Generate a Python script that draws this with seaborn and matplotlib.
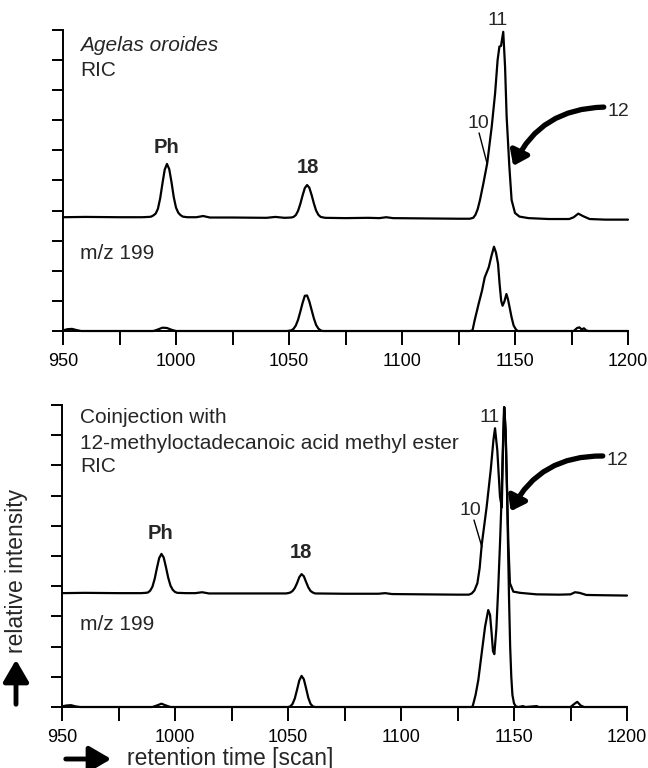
import matplotlib
matplotlib.use("Agg")
import matplotlib.pyplot as plt
from matplotlib.patches import FancyArrowPatch
import seaborn as sns
import pandas as pd

# ---------------- data ----------------
# Panel 1: Agelas oroides, RIC (offset) and m/z 199
ric1_scan = [950, 960, 975, 985, 988, 989, 990, 991, 992, 993, 994, 995, 996, 997, 998, 999, 1000,
             1001, 1002, 1003, 1005, 1009, 1012, 1015, 1025, 1040, 1044, 1048, 1051, 1052, 1053,
             1054, 1055, 1056, 1057, 1058, 1059, 1060, 1061, 1062, 1063, 1064, 1066, 1075, 1085,
             1090, 1093, 1096, 1110, 1125, 1130, 1131.5, 1132.5, 1133.5, 1134.5, 1136, 1137.7,
             1139.7, 1141.2, 1142.3, 1143.1, 1143.8, 1144.8, 1145.6, 1146.3, 1147.5, 1148.5,
             1150, 1152, 1156, 1165, 1174, 1176, 1178, 1180, 1183, 1190, 1200]
ric1_int = [3.78, 3.79, 3.78, 3.78, 3.79, 3.80, 3.84, 3.90, 4.06, 4.41, 4.90, 5.36, 5.55, 5.38,
            4.95, 4.45, 4.10, 3.93, 3.85, 3.80, 3.78, 3.78, 3.82, 3.77, 3.77, 3.76, 3.79, 3.76,
            3.77, 3.79, 3.85, 3.99, 4.22, 4.50, 4.75, 4.85, 4.76, 4.52, 4.24, 4.00, 3.86, 3.79,
            3.76, 3.75, 3.76, 3.75, 3.78, 3.75, 3.74, 3.73, 3.73, 3.76, 3.86, 4.05, 4.35, 4.90,
            5.57, 6.79, 7.90, 9.00, 9.45, 9.47, 9.94, 8.78, 7.12, 5.46, 4.35, 3.92, 3.80, 3.75,
            3.72, 3.72, 3.78, 3.90, 3.82, 3.72, 3.70, 3.70]

mz1_scan = [950, 952, 954, 956, 958, 990, 992, 994, 996, 998, 1000, 1049, 1051, 1052, 1053, 1054,
            1055, 1056, 1057, 1058, 1059, 1060, 1061, 1062, 1063, 1064, 1065, 1130, 1131.2,
            1132.1, 1133.9, 1135.4, 1136.6, 1138.4, 1139.6, 1140.7, 1141.6, 1142.5, 1143.2,
            1143.9, 1144.5, 1145.3, 1146.2, 1146.9, 1147.6, 1148.5, 1149.4, 1150.5, 1151.3,
            1176, 1177.5, 1178.5, 1179.5, 1180.5, 1181.5, 1182.5, 1200]
mz1_int = [0.02, 0.06, 0.07, 0.03, 0.0, 0.0, 0.05, 0.11, 0.10, 0.04, 0.0, 0.0, 0.02, 0.07, 0.18,
           0.37, 0.64, 0.93, 1.17, 1.18, 0.98, 0.70, 0.42, 0.20, 0.08, 0.02, 0.0, 0.0, 0.02,
           0.34, 0.90, 1.34, 1.78, 2.12, 2.50, 2.80, 2.60, 2.23, 1.55, 1.00, 0.84, 0.98, 1.23,
           1.05, 0.79, 0.45, 0.18, 0.04, 0.0, 0.0, 0.10, 0.12, 0.05, 0.09, 0.02, 0.0, 0.0]

# Panel 2: coinjection, RIC (offset) and m/z 199
ric2_scan = [950, 960, 975, 985, 987, 988, 989, 990, 991, 992, 993, 994, 995, 996, 997, 998, 999,
             1000, 1001, 1005, 1009, 1012, 1015, 1030, 1045, 1049, 1050, 1051, 1052, 1053, 1054,
             1055, 1056, 1057, 1058, 1059, 1060, 1061, 1062, 1075, 1090, 1093, 1096, 1110, 1125,
             1130, 1131.3, 1132.5, 1133.8, 1134.8, 1135.7, 1137.9, 1139.7, 1140.9, 1141.6,
             1142.6, 1143.8, 1144.6, 1145.1, 1145.7, 1146.3, 1146.9, 1147.5, 1148.2, 1149.7,
             1152.7, 1160, 1170, 1175, 1177, 1179, 1182, 1190, 1200]
ric2_int = [3.77, 3.78, 3.77, 3.77, 3.78, 3.79, 3.85, 3.98, 4.24, 4.60, 4.93, 5.07, 4.95, 4.63,
            4.28, 4.02, 3.88, 3.81, 3.78, 3.77, 3.77, 3.80, 3.76, 3.76, 3.76, 3.76, 3.77, 3.79,
            3.84, 3.94, 4.10, 4.30, 4.40, 4.33, 4.14, 3.96, 3.84, 3.79, 3.76, 3.75, 3.75, 3.77,
            3.74, 3.73, 3.72, 3.72, 3.76, 3.86, 4.10, 4.60, 5.36, 6.63, 7.85, 8.84, 9.23, 8.51,
            6.96, 6.61, 8.40, 9.93, 9.17, 7.29, 5.42, 4.10, 3.82, 3.78, 3.73, 3.72, 3.73, 3.80,
            3.78, 3.71, 3.70, 3.69]

mz2_scan = [950, 952, 954, 956, 958, 990, 992, 994, 996, 998, 1050, 1051, 1052, 1053, 1054, 1055,
            1056, 1057, 1058, 1059, 1060, 1061, 1062, 1131, 1131.7, 1133, 1134.2, 1135.7, 1137.2,
            1138.6, 1139.4, 1140.1, 1140.7, 1141.3, 1142.2, 1143, 1143.8, 1144.4, 1145, 1145.6,
            1146.3, 1146.9, 1147.4, 1147.8, 1148.3, 1148.8, 1149.3, 1150, 1150.8, 1152, 1154,
            1155, 1160, 1161, 1175, 1177, 1178, 1179.5, 1181, 1200]
mz2_int = [0.02, 0.05, 0.06, 0.02, 0.0, 0.0, 0.05, 0.11, 0.05, 0.0, 0.0, 0.02, 0.10, 0.28, 0.57,
           0.88, 1.03, 0.92, 0.62, 0.30, 0.10, 0.02, 0.0, 0.0, 0.02, 0.40, 0.89, 1.78, 2.66,
           3.21, 3.05, 2.44, 1.85, 1.75, 2.60, 3.90, 5.40, 6.70, 8.40, 9.93, 9.10, 7.20, 5.20,
           3.60, 2.00, 1.00, 0.40, 0.12, 0.02, 0.0, 0.03, 0.0, 0.03, 0.0, 0.0, 0.12, 0.17, 0.05,
           0.0, 0.0]

x_major = [950, 1000, 1050, 1100, 1150, 1200]
x_minor = [975, 1025, 1075, 1125, 1175]
y_ticks = list(range(0, 11))

# ---------------- style ----------------
sns.set_theme(style="ticks")
plt.rcParams["font.family"] = ["Liberation Sans", "DejaVu Sans"]
plt.rcParams["axes.linewidth"] = 1.4

fig = plt.figure(figsize=(6.48, 7.68), dpi=100)
ax1 = fig.add_axes([63 / 648, 1 - 331 / 768, 565 / 648, 301 / 768])
ax2 = fig.add_axes([62 / 648, 1 - 707 / 768, 565 / 648, 302 / 768])

LW = 1.6
for ax, (rs, ri, ms, mi) in zip(
        [ax1, ax2],
        [(ric1_scan, ric1_int, mz1_scan, mz1_int), (ric2_scan, ric2_int, mz2_scan, mz2_int)]):
    df_r = pd.DataFrame({"scan": rs, "intensity": ri})
    df_m = pd.DataFrame({"scan": ms, "intensity": mi})
    sns.lineplot(data=df_r, x="scan", y="intensity", ax=ax, color="black", linewidth=LW,
                 errorbar=None, estimator=None)
    sns.lineplot(data=df_m, x="scan", y="intensity", ax=ax, color="black", linewidth=LW,
                 errorbar=None, estimator=None)
    for ln in ax.lines:
        ln.set_clip_on(False)
    ax.set_xlim(950, 1200)
    ax.set_ylim(0, 10)
    ax.set_xticks(x_major)
    ax.set_xticklabels([str(v) for v in x_major])
    ax.set_xticks(x_minor, minor=True)
    ax.set_yticks(y_ticks)
    ax.set_yticklabels([])
    ax.tick_params(axis="x", which="both", direction="out", length=10, width=1.4,
                   labelsize=13, pad=6, color="black", labelcolor="black")
    ax.tick_params(axis="y", direction="out", length=8, width=1.4, color="black")
    ax.set_xlabel("")
    ax.set_ylabel("")
    for s in ["top", "right"]:
        ax.spines[s].set_visible(False)
    for s in ["left", "bottom"]:
        ax.spines[s].set_color("black")
        ax.spines[s].set_linewidth(1.4)
    ax.set_facecolor("white")

FS = 15
NS = 14
# ---- panel 1 annotations ----
ax1.text(957.5, 9.5, "Agelas oroides", fontsize=FS, style="italic", va="center", ha="left")
ax1.text(957.5, 8.67, "RIC", fontsize=FS, va="center", ha="left")
ax1.text(957.5, 2.59, "m/z 199", fontsize=FS, va="center", ha="left")
ax1.text(996, 6.11, "Ph", fontsize=14.5, fontweight="bold", va="center", ha="center")
ax1.text(1058.4, 5.42, "18", fontsize=14.5, fontweight="bold", va="center", ha="center")
ax1.text(1142.5, 10.33, "11", fontsize=NS, va="center", ha="center", clip_on=False)
ax1.text(1133.6, 6.91, "10", fontsize=NS, va="center", ha="center")
ax1.plot([1134.1, 1137.6], [6.58, 5.58], color="black", lw=1.0)
ax1.text(1190.8, 7.28, "12", fontsize=NS, va="center", ha="left", clip_on=False)
ax1.add_patch(FancyArrowPatch((1190.5, 7.44), (1148.7, 5.40), connectionstyle="arc3,rad=0.32",
                              arrowstyle="-|>,head_length=0.55,head_width=0.4",
                              mutation_scale=15, lw=3.8, color="black", clip_on=False))

# ---- panel 2 annotations ----
ax2.text(958, 9.57, "Coinjection with", fontsize=FS, va="center", ha="left")
ax2.text(958, 8.74, "12-methyloctadecanoic acid methyl ester", fontsize=FS, va="center", ha="left")
ax2.text(958, 7.95, "RIC", fontsize=FS, va="center", ha="left")
ax2.text(958, 2.72, "m/z 199", fontsize=FS, va="center", ha="left")
ax2.text(993.8, 5.76, "Ph", fontsize=14.5, fontweight="bold", va="center", ha="center")
ax2.text(1055.8, 5.10, "18", fontsize=14.5, fontweight="bold", va="center", ha="center")
ax2.text(1139.3, 9.57, "11", fontsize=NS, va="center", ha="center")
ax2.text(1130.5, 6.52, "10", fontsize=NS, va="center", ha="center")
ax2.plot([1132.3, 1135.8], [6.19, 5.30], color="black", lw=1.0)
ax2.text(1190.8, 8.16, "12", fontsize=NS, va="center", ha="left", clip_on=False)
ax2.add_patch(FancyArrowPatch((1190.5, 8.31), (1148.0, 6.40), connectionstyle="arc3,rad=0.32",
                              arrowstyle="-|>,head_length=0.55,head_width=0.4",
                              mutation_scale=15, lw=3.8, color="black", clip_on=False))

# ---- axis labels with arrows ----
W, H = 648, 768
fig.text(127 / W, 1 - 758 / H, "retention time [scan]", fontsize=16.5, va="center", ha="left")
fig.add_artist(FancyArrowPatch((63 / W, 1 - 759 / H), (114 / W, 1 - 759 / H),
                               transform=fig.transFigure, arrowstyle="-|>,head_length=0.6,head_width=0.35",
                               mutation_scale=22, lw=3.5, color="black"))
fig.text(17 / W, 1 - 571 / H, "relative intensity", fontsize=16.5, rotation=90, va="center", ha="center")
fig.add_artist(FancyArrowPatch((16 / W, 1 - 707 / H), (16 / W, 1 - 657 / H),
                               transform=fig.transFigure, arrowstyle="-|>,head_length=0.6,head_width=0.35",
                               mutation_scale=22, lw=3.5, color="black"))

fig.savefig("out.png", dpi=100, facecolor="white")
